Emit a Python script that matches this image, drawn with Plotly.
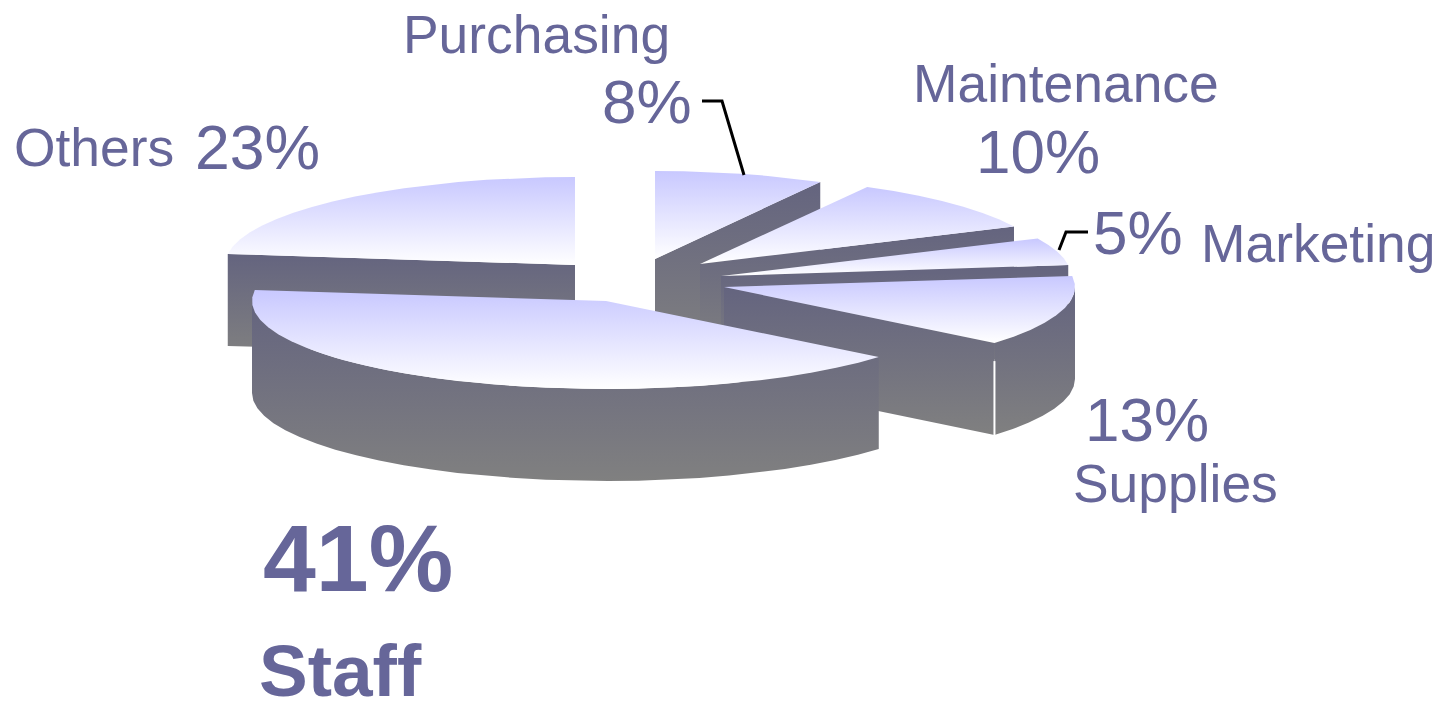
import numpy as np
import plotly.graph_objects as go

# Budget shares, clockwise from twelve o'clock
categories = ["Purchasing", "Maintenance", "Marketing", "Supplies", "Staff", "Others"]
shares = [8, 10, 5, 13, 41, 23]

# Tip of each exploded wedge on the canvas, and its projected horizontal radius
tip_x = [655, 700, 721, 724, 606, 575]
tip_y = [259, 264, 276, 287, 301, 265]
radius_x = [343, 347, 350, 351, 354, 350]

RY, DEPTH = 88, 92
W, H = 1439, 701
INK = "#666699"
TOP_SCALE = [[0, "#c8c8ff"], [1, "#ffffff"]]
WALL_SCALE = [[0, "#64647f"], [1, "#808080"]]

# Wedges are painted back to front
paint_order = ["Others", "Purchasing", "Maintenance", "Marketing", "Supplies", "Staff"]

fractions = np.array(shares) / sum(shares)
ends = np.cumsum(fractions) * 360
starts = ends - fractions * 360


def rim(cx, cy, rx, a0, a1, step=5.0):
    """Points along the projected rim between two clock angles in degrees."""
    n = max(2, int(round((a1 - a0) / step)) + 1)
    t = np.radians(np.linspace(a0, a1, n))
    return cx + rx * np.sin(t), cy - RY * np.cos(t)


def polygon(xs, ys, scale):
    """A closed face filled with a top-to-bottom gradient."""
    xs = np.append(xs, xs[0])
    ys = np.append(ys, ys[0])
    return go.Scatter(
        x=xs, y=ys, mode="lines", line=dict(width=0), fill="toself",
        fillgradient=dict(type="vertical", colorscale=scale,
                          start=float(ys.min()), stop=float(ys.max())),
        hoverinfo="skip", showlegend=False,
    )


fig = go.Figure()

for name in paint_order:
    i = categories.index(name)
    cx, cy, rx = tip_x[i], tip_y[i], radius_x[i]
    a0, a1 = starts[i], ends[i]
    rx_pts, ry_pts = rim(cx, cy, rx, a0, a1)

    # Cut face along the wedge's trailing edge (faces the viewer on the right half)
    if name != "Staff":
        edge = a1 if a1 < 180 else a0
        ex, ey = rim(cx, cy, rx, edge, edge)
        ex, ey = ex[0], ey[0]
        fig.add_trace(polygon(
            np.array([cx, ex, ex, cx]),
            np.array([cy, ey, ey + DEPTH, cy + DEPTH]),
            WALL_SCALE,
        ))

    # Outer wall, only where the rim runs along the front of the pie
    w0, w1 = max(a0, 90), min(a1, 270)
    if w1 > w0:
        wx, wy = rim(cx, cy, rx, w0, w1)
        fig.add_trace(polygon(
            np.concatenate([wx, wx[::-1]]),
            np.concatenate([wy, wy[::-1] + DEPTH]),
            WALL_SCALE,
        ))

    # Top face
    fig.add_trace(polygon(
        np.concatenate([[cx], rx_pts]),
        np.concatenate([[cy], ry_pts]),
        TOP_SCALE,
    ))

    # Light seam where the cut face meets the outer wall
    if name == "Supplies":
        sx, sy = rim(cx, cy, rx, a1, a1)
        fig.add_trace(go.Scatter(
            x=[sx[0], sx[0]], y=[sy[0] + 18, sy[0] + DEPTH],
            mode="lines", line=dict(color="white", width=2),
            hoverinfo="skip", showlegend=False,
        ))

# Leader lines for the two small wedges
leader_x = [[702, 722, 744], [1059, 1066, 1088]]
leader_y = [[101, 101, 175], [250, 232, 232]]
for lx, ly in zip(leader_x, leader_y):
    fig.add_trace(go.Scatter(
        x=lx, y=ly, mode="lines", line=dict(color="black", width=3),
        hoverinfo="skip", showlegend=False,
    ))


def label(text, x, y, size, bold=False):
    fig.add_annotation(
        x=x, y=y, text=f"<b>{text}</b>" if bold else text,
        showarrow=False, xanchor="left", yanchor="middle",
        borderpad=0, borderwidth=0,
        font=dict(family="Liberation Sans", size=size, color=INK),
    )


pct = {c: f"{s}%" for c, s in zip(categories, shares)}
label("Purchasing", 403, 34, 53.4)
label(pct["Purchasing"], 602, 101, 62)
label("Maintenance", 913, 83, 53.4)
label(pct["Maintenance"], 976, 151, 62)
label(pct["Marketing"], 1093, 232, 62)
label("Marketing", 1201, 243, 53.4)
label(pct["Supplies"], 1085, 419, 62)
label("Supplies", 1073, 483, 53.4)
label("Others", 14, 147, 53.4)
label(pct["Others"], 195, 147, 62.5)
label(pct["Staff"], 263, 558, 95, bold=True)
label("Staff", 259, 670, 73, bold=True)

fig.update_layout(
    width=W, height=H,
    margin=dict(l=0, r=0, t=0, b=0),
    paper_bgcolor="white", plot_bgcolor="white",
    xaxis=dict(range=[0, W], visible=False, fixedrange=True),
    yaxis=dict(range=[H, 0], visible=False, fixedrange=True),
    showlegend=False,
)

fig.write_html("out.html", config={"displayModeBar": False})
